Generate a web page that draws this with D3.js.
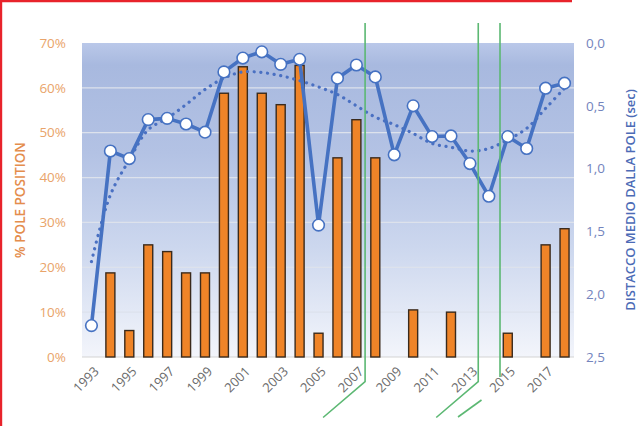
<!DOCTYPE html>
<html>
<head>
<meta charset="utf-8">
<script src="https://cdn.jsdelivr.net/npm/d3@7"></script>
<style>
  html, body { margin: 0; padding: 0; background: #fff; }
  svg { display: block; }
  text { font-family: "Open Sans", "Liberation Sans", sans-serif; }
</style>
</head>
<body>
<svg id="chart" width="639" height="426"></svg>
<script>
// Seasons covered
const years = d3.range(1993, 2019);

// Share of pole positions per season (%)
const polePct = [0, 18.75, 5.9, 25, 23.5, 18.75, 18.75, 58.8, 64.7, 58.8, 56.25, 65,
                 5.3, 44.4, 52.9, 44.4, 0, 10.5, 0, 10, 0, 0, 5.3, 0, 25, 28.6];

// Average gap from pole (seconds)
const poleGap = [2.25, 0.86, 0.92, 0.61, 0.60, 0.645, 0.71, 0.23, 0.12, 0.07, 0.17, 0.13,
                 1.45, 0.28, 0.175, 0.27, 0.89, 0.50, 0.745, 0.74, 0.96, 1.22, 0.745, 0.84, 0.36, 0.32];

// Smoothed trend of the average gap (seconds)
const gapTrend = [1.74, 1.21, 0.93, 0.69, 0.60, 0.49, 0.37, 0.28, 0.23, 0.235, 0.26, 0.30,
                  0.35, 0.41, 0.50, 0.59, 0.65, 0.72, 0.80, 0.83, 0.86, 0.84, 0.77, 0.68, 0.52, 0.36];

// Axis ticks
const leftTicks = [0, 10, 20, 30, 40, 50, 60, 70];
const rightTicks = [0, 0.5, 1, 1.5, 2, 2.5];
const xTickLabels = ["1993", "1995", "1997", "1999", "2001", "2003", "2005", "2007",
                     "2009", "2011", "2013", "2015", "2017"];

// Marker lines placed between seasons (fractional season positions)
const markerSeasons = [2007.46, 2013.44, 2014.59];

const svg = d3.select("#chart");
const m = { left: 82, right: 574, top: 43, bottom: 357 };

const x = d3.scaleBand().domain(years).range([m.left, m.right]).padding(0);
const yL = d3.scaleLinear().domain([0, 70]).range([m.bottom, m.top]);
const yR = d3.scaleLinear().domain([0, 2.5]).range([m.top, m.bottom]);
const xc = d => x(d) + x.bandwidth() / 2;
const xFrac = v => m.left + x.step() * (v - years[0] + 0.5);

// Plot-area gradient background
const defs = svg.append("defs");
const grad = defs.append("linearGradient").attr("id", "bg")
  .attr("x1", 0).attr("y1", 0).attr("x2", 0).attr("y2", 1);
[[0, "#bac8e9"], [0.07, "#a8b9df"], [0.35, "#b3c2e4"], [0.65, "#ccd7ee"], [1, "#f3f5fb"]]
  .forEach(([o, c]) => grad.append("stop").attr("offset", o).attr("stop-color", c));

svg.append("rect")
  .attr("x", m.left).attr("y", m.top)
  .attr("width", m.right - m.left).attr("height", m.bottom - m.top)
  .attr("fill", "url(#bg)");

// Horizontal gridlines
svg.append("g").selectAll("line").data(leftTicks.filter(t => t > 0 && t < 70)).join("line")
  .attr("x1", m.left).attr("x2", m.right)
  .attr("y1", d => yL(d)).attr("y2", d => yL(d))
  .attr("stroke", "#dde2ec").attr("stroke-width", 1.2);

svg.append("line")
  .attr("x1", m.left).attr("x2", m.right)
  .attr("y1", m.bottom).attr("y2", m.bottom)
  .attr("stroke", "#d4d4d4").attr("stroke-width", 1.2);

// Bars: pole position share
const barW = 9;
svg.append("g").selectAll("rect")
  .data(years.map((yr, i) => ({ yr, v: polePct[i] })).filter(d => d.v > 0))
  .join("rect")
  .attr("x", d => xc(d.yr) - barW / 2)
  .attr("y", d => yL(d.v))
  .attr("width", barW)
  .attr("height", d => yL(0) - yL(d.v))
  .attr("fill", "#ef8428")
  .attr("stroke", "#3a2a1c")
  .attr("stroke-width", 1.4);

// Dotted trend line
svg.append("path")
  .datum(years.map((yr, i) => [xc(yr), yR(gapTrend[i])]))
  .attr("d", d3.line().curve(d3.curveCatmullRom.alpha(0.5)))
  .attr("fill", "none")
  .attr("stroke", "#4a70c2")
  .attr("stroke-width", 3.2)
  .attr("stroke-linecap", "round")
  .attr("stroke-dasharray", "0.1,6.6");

// Average gap line with markers
const gapPts = years.map((yr, i) => [xc(yr), yR(poleGap[i])]);
svg.append("path")
  .datum(gapPts)
  .attr("d", d3.line())
  .attr("fill", "none")
  .attr("stroke", "#4672c2")
  .attr("stroke-width", 3.6)
  .attr("stroke-linejoin", "round");

svg.append("g").selectAll("circle").data(gapPts).join("circle")
  .attr("cx", d => d[0]).attr("cy", d => d[1]).attr("r", 5.8)
  .attr("fill", "#ffffff")
  .attr("stroke", "#4672c2")
  .attr("stroke-width", 1.6);

// Green marker lines
const green = "#5cb873";
const gm = svg.append("g").attr("fill", "none").attr("stroke", green).attr("stroke-width", 1.6);
markerSeasons.forEach((s, i) => {
  const xs = xFrac(s);
  if (i < 2) {
    gm.append("path").attr("d", `M${xs},23 V381.7 L${xs - 42},417.5`);
  } else {
    gm.append("path").attr("d", `M${xs},23 V377`);
    gm.append("path").attr("d", `M${xs - 18.5},400 L${xs - 42},417`);
  }
});

// Left axis labels
svg.append("g").selectAll("text").data(leftTicks).join("text")
  .attr("x", 66).attr("y", d => yL(d)).attr("dy", "0.35em")
  .attr("text-anchor", "end")
  .attr("font-size", 13.5)
  .attr("fill", "#e9a46a")
  .text(d => d + "%");

svg.append("text")
  .attr("transform", `translate(20,${(m.top + m.bottom) / 2}) rotate(-90)`)
  .attr("text-anchor", "middle")
  .attr("dy", "0.35em")
  .attr("font-size", 13.5)
  .attr("font-weight", 600)
  .attr("fill", "#e48d4d")
  .text("% POLE POSITION");

// Right axis labels
const fmtR = d => d3.format(".1f")(d).replace(".", ",");
svg.append("g").selectAll("text").data(rightTicks).join("text")
  .attr("x", 586).attr("y", d => yR(d)).attr("dy", "0.35em")
  .attr("text-anchor", "start")
  .attr("font-size", 13.5)
  .attr("fill", "#7484bd")
  .text(fmtR);

svg.append("text")
  .attr("transform", `translate(630,${(m.top + m.bottom) / 2}) rotate(-90)`)
  .attr("text-anchor", "middle")
  .attr("dy", "0.35em")
  .attr("font-size", 13)
  .attr("font-weight", 600)
  .attr("fill", "#4c6bb6")
  .text("DISTACCO MEDIO DALLA POLE (sec)");

// X axis labels (every other season)
svg.append("g").selectAll("text").data(xTickLabels).join("text")
  .attr("transform", d => `translate(${xc(+d) + 5},${m.bottom + 12}) rotate(-45)`)
  .attr("text-anchor", "end")
  .attr("dy", "0.35em")
  .attr("font-size", 13)
  .attr("fill", "#6b6b6b")
  .text(d => d);

// Red frame edges
svg.append("path")
  .attr("d", "M1,426 V1 H572")
  .attr("fill", "none")
  .attr("stroke", "#e8232b")
  .attr("stroke-width", 2.4);
</script>
</body>
</html>
